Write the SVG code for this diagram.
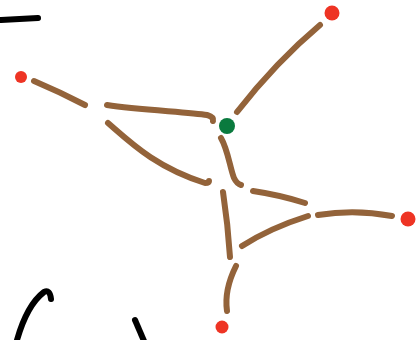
<svg xmlns="http://www.w3.org/2000/svg" width="418" height="340" viewBox="0 0 418 340">
<style>
.b{fill:none;stroke:#93633a;stroke-width:6;stroke-linecap:round;stroke-linejoin:round}
.k{fill:none;stroke:#000;stroke-width:6;stroke-linecap:round;stroke-linejoin:round}
.r{fill:#ee3424}
.g{fill:#0a7a3e}
</style>
<rect width="418" height="340" fill="#fff"/>
<g id="connectors">
<path class="b" d="M34,81 Q60,92 85,105"/>
<path class="b" d="M107,105 C140,110 190,112 207,115 Q214,117 213,121"/>
<path class="b" d="M108,123 C130,142 155,167 205,183 Q209,183 209,181"/>
<path class="b" d="M237,112 Q276,62 320,25"/>
<path class="b" d="M221,138 C228,150 230,168 234,178 Q237,184 241,185"/>
<path class="b" d="M223,192 Q228,225 230,257"/>
<path class="b" d="M236,266 Q224,290 227,311"/>
<path class="b" d="M253,191 Q280,195 305,203"/>
<path class="b" d="M242,246 Q270,228 308,216"/>
<path class="b" d="M318,215 Q355,209 392,216"/>
</g>
<g id="strokes">
<path class="k" d="M1,20 L38,18"/>
<path class="k" d="M51,299 Q50,289 44,292 Q27,305 17,340"/>
<path class="k" d="M135,320 L144,341"/>
</g>
<g id="n1"><circle class="r" cx="332" cy="13" r="7.5"/></g>
<g id="n2"><circle class="r" cx="21" cy="77" r="6"/></g>
<g id="n3"><circle class="g" cx="227" cy="126" r="8"/></g>
<g id="n4"><circle class="r" cx="408" cy="219" r="7.5"/></g>
<g id="n5"><circle class="r" cx="222" cy="327" r="6.5"/></g>
</svg>
